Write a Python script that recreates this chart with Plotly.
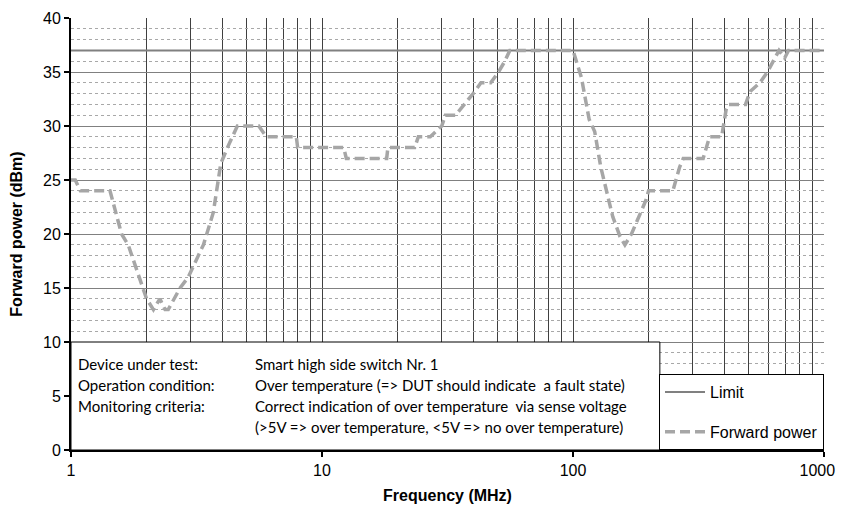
import plotly.graph_objects as go

# ---- data ----
freq_mhz = [1, 1.04, 1.09, 1.43, 1.59, 1.69, 2.0, 2.13, 2.26, 2.37, 2.44, 2.72, 2.93, 3.07,
            3.37, 3.69, 3.95, 4.2, 4.6, 5.6, 6.0, 7.9, 8.0, 12.2, 12.5, 18.1, 18.3, 23.4,
            24.2, 27, 30, 31, 34, 40, 43, 47, 50.5, 53.5, 56, 100, 108, 116, 122, 129, 136,
            144, 154, 161, 171, 185, 195, 200, 250, 266, 275, 330, 350, 391, 408, 418, 487,
            508, 555, 595, 625, 662, 697, 722, 1000]
forward_power = [25, 25, 24, 24, 20, 19, 14, 13, 14, 13, 13, 15, 16, 17,
                 19, 22, 26.5, 28, 30, 30, 29, 29, 28, 28, 27, 27, 28, 28,
                 29, 29, 30, 31, 31, 33, 34, 34, 35, 36, 37, 37, 34.5, 30.6, 29.5, 26.2, 24.1,
                 21.6, 19.75, 19, 20, 21.8, 23.1, 24, 24, 26.2, 27, 27, 29, 29, 31.6, 32, 32,
                 33.2, 34, 35, 36, 37, 36.3, 37, 37]
limit_freq = [1, 1000]
limit_level = [37, 37]

x_major_ticks = [1, 10, 100, 1000]
x_tick_labels = ["1", "10", "100", "1000\u00a0\u00a0\u00a0"]
x_minor_ticks = [m * d for d in (1, 10, 100) for m in range(2, 10)]

info_labels = ["Device under test:", "Operation condition:", "Monitoring criteria:", ""]
info_values = ["Smart high side switch Nr. 1",
               "Over temperature (=> DUT should indicate  a fault state)",
               "Correct indication of over temperature  via sense voltage",
               "(>5V => over temperature, <5V => no over temperature)"]
info_rows_y = [7.96, 6.02, 4.07, 2.13]

fig = go.Figure()
fig.add_trace(go.Scatter(x=limit_freq, y=limit_level, mode="lines", name="Limit",
                         line=dict(color="#808080", width=2), legendgroup="a"))
fig.add_trace(go.Scatter(x=freq_mhz, y=forward_power, mode="lines", name="Forward power",
                         line=dict(color="#A6A6A6", width=3.5, dash="10px,5px"), legendgroup="b"))

# info box
fig.add_shape(type="rect", xref="paper", yref="y", x0=0, x1=0.782, y0=0, y1=10,
              line=dict(color="black", width=1), fillcolor="white", layer="above")
for lab, val, yy in zip(info_labels, info_values, info_rows_y):
    if lab:
        fig.add_annotation(xref="paper", yref="y", x=0.0066, y=yy, text=lab, showarrow=False,
                           xanchor="left", yanchor="middle",
                           font=dict(family="Lato", size=15, color="black"))
    fig.add_annotation(xref="paper", yref="y", x=0.2417, y=yy, text=val, showarrow=False,
                       xanchor="left", yanchor="middle",
                       font=dict(family="Lato", size=15, color="black"))

# page body has an 8px margin, so the figure is sized 8px smaller and margins shifted
fig.update_layout(
    width=836, height=496,
    margin=dict(l=63, r=20, t=10, b=54),
    paper_bgcolor="white", plot_bgcolor="white",
    font=dict(family="Liberation Sans", size=16, color="black"),
    showlegend=True,
    legend=dict(x=1, xanchor="right", y=0, yanchor="bottom", bgcolor="white",
                bordercolor="black", borderwidth=1, tracegroupgap=16, itemwidth=40,
                font=dict(family="Liberation Sans", size=16, color="black")),
    xaxis=dict(type="log", range=[0, 3], tickvals=x_major_ticks, ticktext=x_tick_labels,
               ticklabeloverflow="allow",
               ticks="outside", ticklen=5, tickcolor="black", tickwidth=2, automargin=False,
               showgrid=True, gridcolor="#404040", gridwidth=1,
               minor=dict(tickvals=x_minor_ticks, showgrid=True, gridcolor="#404040", gridwidth=1, ticks=""),
               showline=True, linecolor="black", linewidth=2, zeroline=False,
               title=dict(text="<b>Frequency (MHz)</b>", font=dict(size=16), standoff=14)),
    yaxis=dict(range=[0, 40], dtick=5, ticks="outside", ticklen=5, tickcolor="black", tickwidth=2,
               automargin=False,
               showgrid=True, gridcolor="#808080", gridwidth=1,
               minor=dict(dtick=1, showgrid=True, gridcolor="#A8A8A8", griddash="dot", gridwidth=1),
               showline=True, linecolor="black", linewidth=2, zeroline=False,
               title=dict(text="<b>Forward power (dBm)</b>", font=dict(size=16), standoff=16)),
)

fig.write_html("out.html")
